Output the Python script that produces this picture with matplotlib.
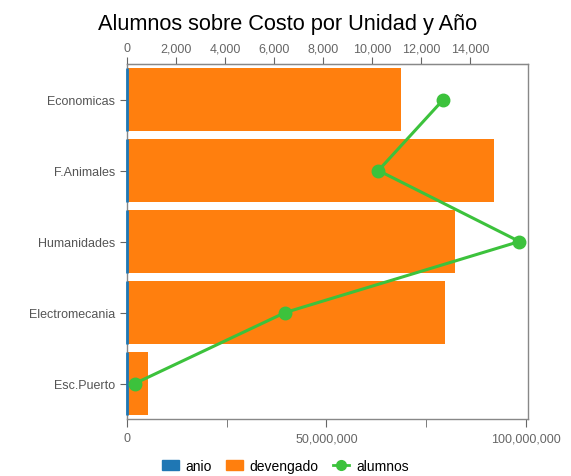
import matplotlib.pyplot as plt
from matplotlib.ticker import FuncFormatter, FixedLocator
from matplotlib.patches import Patch
from matplotlib.lines import Line2D

plt.rcParams['font.family'] = ['Liberation Sans', 'DejaVu Sans']

# data
unidades = ["Economicas", "F.Animales", "Humanidades", "Electromecania", "Esc.Puerto"]
anio = [2015, 2015, 2015, 2015, 2015]
devengado = [68750000, 91900000, 82300000, 79800000, 5300000]
alumnos = [12900, 10250, 16000, 6450, 320]

azul = '#1f77b4'
naranja = '#ff7f0e'
verde = '#3cc23c'
gris = '#666666'

fig = plt.figure(figsize=(5.71, 4.77), dpi=100)
ax = fig.add_axes([0.2224, 0.1195, 0.7023, 0.7442])
pos = list(range(len(unidades)))

ax.barh(pos, devengado, height=0.88, color=naranja, zorder=2)
ax.set_xlim(0, 100500000)
ax.set_ylim(len(unidades) - 0.5, -0.5)
ax.set_yticks(pos)
ax.set_yticklabels(unidades)
ax.xaxis.set_major_locator(FixedLocator([0, 50000000, 100000000]))
ax.xaxis.set_minor_locator(FixedLocator([25000000, 75000000]))
ax.xaxis.set_major_formatter(FuncFormatter(lambda v, p: f"{int(v):,}"))
ax.tick_params(axis='x', which='both', length=6, color=gris, labelcolor=gris, labelsize=9)
ax.tick_params(axis='y', length=5, color=gris, labelcolor='#555555', labelsize=9)
for s in ax.spines.values():
    s.set_color('#888888')
    s.set_linewidth(1)

ax2 = ax.twiny()
# anio bars drawn on top so the thin blue edge stays visible over the left spine
ax2.barh(pos, [a / 100500000 * 16350 for a in anio], height=0.88, color=azul,
         edgecolor=azul, linewidth=2, zorder=3, clip_on=False)
ax2.plot(alumnos, pos, color=verde, linewidth=2.2, marker='o', markersize=9, zorder=5)
ax2.set_xlim(0, 16350)
ax2.set_xticks(range(0, 14001, 2000))
ax2.xaxis.set_major_formatter(FuncFormatter(lambda v, p: f"{int(v):,}"))
ax2.tick_params(axis='x', length=5, color=gris, labelcolor=gris, labelsize=9, pad=2)
for k, s in ax2.spines.items():
    s.set_visible(k == 'top')
    s.set_color('#888888')

fig.suptitle("Alumnos sobre Costo por Unidad y Año", x=0.503, y=0.97, fontsize=15.7)

handles = [Patch(color=azul), Patch(color=naranja),
           Line2D([0], [0], color=verde, linewidth=2, marker='o', markersize=7)]
fig.legend(handles, ["anio", "devengado", "alumnos"], loc='center', ncol=3,
           bbox_to_anchor=(0.5, 0.022), frameon=False, fontsize=10,
           handlelength=1.2, handletextpad=0.5, columnspacing=1.0)

plt.savefig("out.png", dpi=100)
